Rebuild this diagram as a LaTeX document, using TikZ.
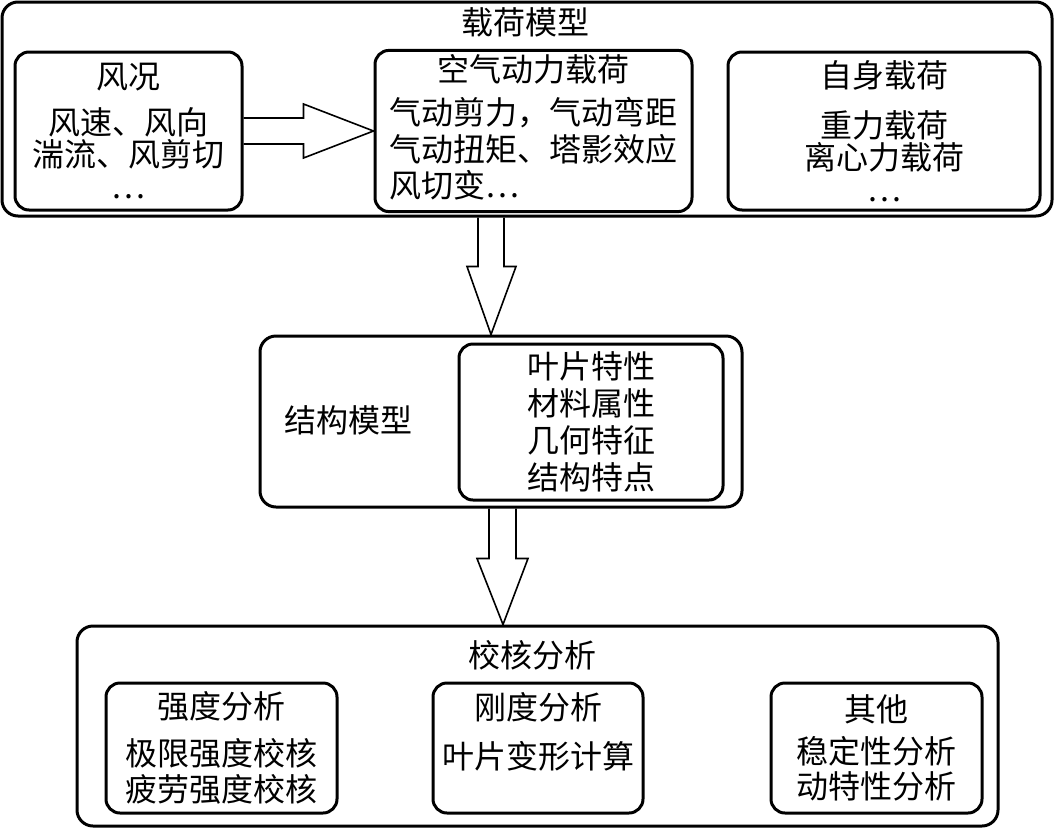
\documentclass[tikz,border=0pt]{standalone}
\usepackage{fontspec}
\setmainfont{Noto Sans CJK SC}
\usetikzlibrary{calc, positioning}

\begin{document}
\begin{tikzpicture}[x=1pt, y=-1pt,
  box/.style={draw, line width=3pt, rounded corners=14pt, align=center, inner sep=4pt, font={\fontsize{32}{32}\selectfont}},
  group/.style={draw, line width=3pt, rounded corners=16pt},
  ttl/.style={inner sep=0pt, font={\fontsize{32}{32}\selectfont}},
  hollow/.style={draw, line width=1.6pt, line join=miter}
]
  \useasboundingbox (0,0) rectangle (1058,828);

  % load model
  \node[group, minimum width=1050, minimum height=214] (load) at (527,109) {};
  \node[ttl] (loadttl) at (525,22) {载荷模型};
  \node[box, minimum width=227, minimum height=158] (wind) at (128.5,131) {风况\\[14pt]风速、风向\\湍流、风剪切\\…};
  \node[box, minimum width=317, minimum height=158] (aero) at (533.5,131) {空气动力载荷\\[11pt]\begin{tabular}[t]{@{}l@{}}气动剪力，气动弯距\\气动扭矩、塔影效应\\风切变…\end{tabular}};
  \node[box, minimum width=312, minimum height=158] (self) at (884,131) {自身载荷\\[18pt]重力载荷\\离心力载荷\\…};

  % structure model
  \node[group, minimum width=482, minimum height=171] (struct) at (501,421.5) {};
  \node[ttl] (structttl) at (348,420) {结构模型};
  \node[box, minimum width=264, minimum height=156, font={\fontsize{32}{37}\selectfont}] (props) at (591,422) {叶片特性\\材料属性\\几何特征\\结构特点};

  % check analysis
  \node[group, minimum width=921, minimum height=200] (check) at (537.5,726) {};
  \node[ttl] (checkttl) at (532,655) {校核分析};
  \node[box, minimum width=231, minimum height=130, font={\fontsize{32}{36}\selectfont}] (strength) at (221.5,748) {强度分析\\[11pt]极限强度校核\\疲劳强度校核};
  \node[box, minimum width=210, minimum height=130, font={\fontsize{32}{36}\selectfont}] (stiff) at (538,748) {刚度分析\\[13pt]叶片变形计算\\\mbox{}};
  \node[box, minimum width=211, minimum height=130, font={\fontsize{32}{35}\selectfont}] (other) at (876.5,748) {其他\\[7pt]稳定性分析\\动特性分析};

  % block arrows
  \draw[hollow] ($(wind.east)+(0,-13)$) -- ++(60,0) -- ++(0,-14) -- (aero.west)
    -- ($(wind.east)+(60,27)$) -- ++(0,-14) -- ($(wind.east)+(0,13)$);
  \draw[hollow] ($(load.south)+(-49,0)$) -- ++(0,49) -- ++(-11,0) -- ($(struct.north)+(-10,0)$)
    -- ($(load.south)+(-11,49)$) -- ++(-12,0) -- ($(load.south)+(-23,0)$);
  \draw[hollow] ($(struct.south)+(-12,0)$) -- ++(0,50) -- ++(-12,0) -- ($(struct.south |- check.north)+(2,0)$)
    -- ($(struct.south)+(27,50)$) -- ++(-12,0) -- ($(struct.south)+(15,0)$);
\end{tikzpicture}
\end{document}
